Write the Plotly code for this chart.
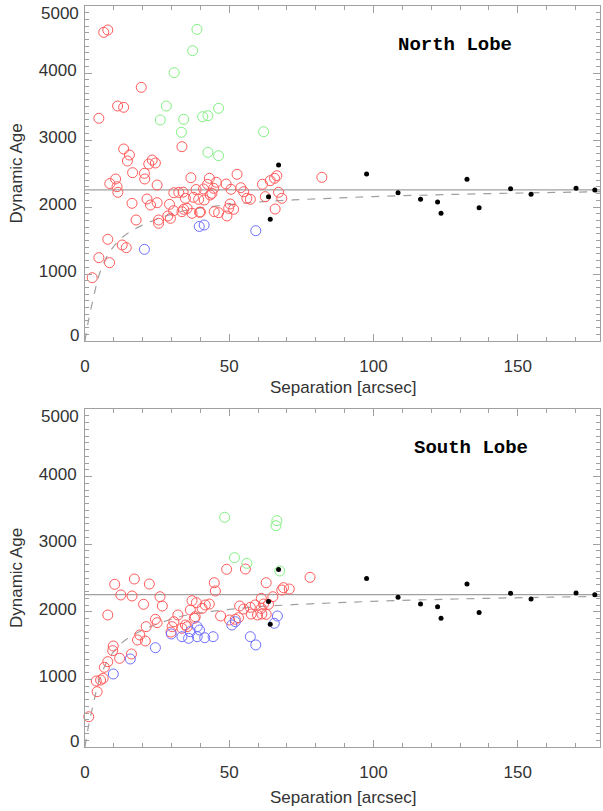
import plotly.graph_objects as go

# ---------------- data ----------------
# North lobe (top panel)
north_red_x = [6.5, 7.9, 19.5, 11.3, 13.4, 4.8, 33.6, 13.4, 15.4, 14.7, 23.3, 22.1, 24.4, 16.5, 20.6,
               20.7, 36.7, 10.6, 8.6, 11.1, 11.4, 25.0, 38.5, 30.8, 32.5, 34.0, 16.3, 21.5, 22.7, 25.0,
               29.3, 34.8, 37.6, 35.4, 30.7, 28.7, 29.6, 25.5, 25.5, 33.6, 37.1, 39.7, 17.7, 7.9, 12.9,
               14.3, 4.8, 8.5, 2.5, 52.7, 43.1, 66.5, 65.7, 64.2, 61.5, 82.1, 45.5, 42.5, 48.9, 41.1,
               44.6, 50.6, 54.0, 44.0, 55.0, 67.1, 39.4, 41.3, 43.4, 56.1, 57.3, 62.5, 68.2, 50.3, 49.8,
               51.5, 46.3, 44.8, 40.0, 49.2, 65.9, 34.2]
north_red_y = [4607, 4642, 3786, 3507, 3488, 3324, 2900, 2866, 2776, 2687, 2701, 2642, 2657, 2512, 2503,
               2418, 2437, 2418, 2350, 2303, 2219, 2328, 2260, 2213, 2218, 2222, 2055, 2119, 2030, 2064,
               2040, 2130, 2145, 1980, 1945, 1866, 1831, 1806, 1757, 1930, 1906, 1921, 1806, 1518, 1433,
               1393, 1244, 1169, 945, 2488, 2428, 2467, 2428, 2393, 2339, 2443, 2369, 2339, 2343, 2269,
               2279, 2264, 2288, 2204, 2228, 2219, 2115, 2104, 2179, 2130, 2115, 2154, 2130, 2045, 1980,
               1966, 1915, 1930, 1925, 1866, 1970, 1966]
north_green_x = [38.8, 37.3, 30.9, 28.2, 26.1, 34.2, 33.4, 42.6, 46.3, 61.9, 40.8, 42.6, 46.3]
north_green_y = [4652, 4333, 4005, 3507, 3299, 3309, 3115, 2816, 2766, 3124, 3348, 3363, 3473]
north_blue_x = [20.6, 39.6, 41.3, 59.2]
north_blue_y = [1368, 1710, 1731, 1646]

# South lobe (bottom panel)
south_red_x = [1.3, 4.2, 3.9, 5.4, 6.3, 6.7, 7.9, 9.6, 9.8, 12.0, 16.1, 18.2, 20.9, 19.0, 7.9,
               10.3, 17.1, 22.3, 12.4, 16.3, 26.0, 20.3, 26.8, 24.4, 25.0, 21.2, 30.8, 32.2, 30.2, 29.8,
               37.1, 38.6, 36.5, 34.8, 33.6, 37.9, 49.1, 55.6, 62.8, 78.0, 44.8, 45.2, 68.2, 68.8, 70.8,
               61.1, 65.1, 61.9, 63.6, 61.1, 41.7, 43.1, 40.6, 53.6, 55.0, 57.3, 59.0, 57.6, 59.8, 61.3,
               62.8, 47.0, 53.2, 52.1, 50.1, 38.2, 35.4]
south_red_y = [448, 818, 976, 991, 1016, 1179, 1262, 1425, 1494, 1312, 1376, 1583, 1568, 1657, 1953,
               2407, 2485, 2411, 2249, 2234, 2223, 2111, 2086, 1889, 1839, 1780, 1854, 1953, 1780, 1700,
               2164, 2135, 2027, 1805, 1756, 1904, 2629, 2633, 2430, 2510, 2430, 2308, 2322, 2357, 2337,
               2199, 2223, 2115, 2111, 2051, 2101, 2115, 2051, 2086, 2041, 2066, 2101, 1967, 1953, 1967,
               1963, 1938, 1913, 1889, 1879, 1928, 1780]
south_green_x = [48.4, 66.5, 66.2, 51.8, 56.1, 67.5]
south_green_y = [3398, 3348, 3274, 2800, 2717, 2604]
south_blue_x = [9.8, 15.7, 24.4, 29.9, 33.6, 35.9, 38.9, 39.7, 66.7, 65.6, 50.9, 52.1, 36.5, 41.5,
                44.4, 57.3, 59.2, 38.9]
south_blue_y = [1080, 1302, 1469, 1672, 1632, 1608, 1780, 1731, 1938, 1830, 1805, 1854, 1706, 1617,
                1632, 1632, 1510, 1632]

# black dots (same in both panels)
black_x = [63.6, 64.2, 67.1, 97.6, 108.5, 116.3, 122.2, 123.4, 132.4, 136.6, 147.5, 154.6, 170.2, 176.7]
black_y = [2154, 1816, 2627, 2493, 2214, 2115, 2075, 1906, 2413, 1990, 2274, 2190, 2279, 2254]

# mean level (solid line) and model curve (dashed)
mean_x = [0, 178.5]
mean_y = [2255, 2255]
curve_x = [0, 1, 3, 5, 8, 12, 16, 20, 25, 33, 40, 50, 60, 72, 85, 100, 120, 140, 160, 178.5]
curve_y = [0, 260, 660, 1000, 1290, 1510, 1640, 1730, 1820, 1930, 1985, 2035, 2075, 2105, 2130,
           2155, 2180, 2200, 2215, 2228]

x_ticks = [0, 50, 100, 150]
y_ticks = [0, 1000, 2000, 3000, 4000, 5000]
y_ticktext = ["", "1000", "2000", "3000", "4000", ""]   # 0 and 5000 are nudged inward (annotations)
panel_titles = ["North Lobe", "South Lobe"]

# ---------------- figure ----------------
W, H = 603, 811
fig = go.Figure()

RED = "rgb(255,90,90)"
GREEN = "rgb(130,240,130)"
BLUE = "rgb(110,110,255)"
GRAY = "rgb(160,160,160)"

panels = [
    dict(xa="x", ya="y", red=(north_red_x, north_red_y), green=(north_green_x, north_green_y),
         blue=(north_blue_x, north_blue_y)),
    dict(xa="x2", ya="y2", red=(south_red_x, south_red_y), green=(south_green_x, south_green_y),
         blue=(south_blue_x, south_blue_y)),
]

for p in panels:
    fig.add_trace(go.Scatter(x=mean_x, y=mean_y, mode="lines", xaxis=p["xa"], yaxis=p["ya"],
                             line=dict(color=GRAY, width=1.3), showlegend=False, hoverinfo="skip"))
    fig.add_trace(go.Scatter(x=curve_x, y=curve_y, mode="lines", xaxis=p["xa"], yaxis=p["ya"],
                             line=dict(color=GRAY, width=1.2, dash="8px,8px", shape="spline"),
                             showlegend=False, hoverinfo="skip"))
    for key, col in (("red", RED), ("green", GREEN), ("blue", BLUE)):
        xs, ys = p[key]
        fig.add_trace(go.Scatter(x=xs, y=ys, mode="markers", xaxis=p["xa"], yaxis=p["ya"],
                                 marker=dict(symbol="circle-open", size=10, color=col,
                                             line=dict(width=1, color=col)),
                                 showlegend=False, cliponaxis=False))
    fig.add_trace(go.Scatter(x=black_x, y=black_y, mode="markers", xaxis=p["xa"], yaxis=p["ya"],
                             marker=dict(symbol="circle", size=5, color="black"), showlegend=False,
                             cliponaxis=False))

x0, x1 = 85 / W, 600 / W
top_dom = [(H - 341) / H, (H - 6) / H]
bot_dom = [(H - 747) / H, (H - 409) / H]

tickfont = dict(family="Liberation Sans, Arial, sans-serif", size=17, color="#333")
common_x = dict(range=[0, 178.5], showline=True, linecolor=GRAY, linewidth=1, mirror="ticks",
                ticks="inside", ticklen=7, tickcolor=GRAY, tickvals=x_ticks,
                minor=dict(ticks="inside", dtick=10, ticklen=4, tickcolor=GRAY),
                showgrid=False, zeroline=False, tickfont=tickfont, ticklabelstandoff=10)
common_y = dict(range=[0, 5000], showline=True, linecolor=GRAY, linewidth=1, mirror="ticks",
                ticks="inside", ticklen=7, tickcolor=GRAY, tickvals=y_ticks, ticktext=y_ticktext,
                minor=dict(ticks="inside", dtick=100, ticklen=4, tickcolor=GRAY),
                showgrid=False, zeroline=False, tickfont=tickfont, ticklabelstandoff=4,
                ticklabelshift=-3)

fig.update_layout(
    width=W, height=H, margin=dict(l=0, r=0, t=0, b=0, autoexpand=False),
    paper_bgcolor="white", plot_bgcolor="white",
    xaxis=dict(domain=[x0, x1], anchor="y", **common_x),
    yaxis=dict(domain=top_dom, anchor="x", **common_y),
    xaxis2=dict(domain=[x0, x1], anchor="y2", **common_x),
    yaxis2=dict(domain=bot_dom, anchor="x2", **common_y),
)

annots = []
label_font = dict(family="Liberation Sans, Arial, sans-serif", size=17, color="#333")
for k, dom in enumerate((top_dom, bot_dom)):
    yref = "y" if k == 0 else "y2"
    annots.append(dict(text="Dynamic Age", textangle=-90, x=16 / W, y=(dom[0] + dom[1]) / 2,
                       xref="paper", yref="paper", showarrow=False, font=label_font,
                       xanchor="center", yanchor="middle"))
    annots.append(dict(text="Separation [arcsec]", x=(85 + 600) / 2 / W,
                       y=dom[0] - (46 if k == 0 else 50) / H,
                       xref="paper", yref="paper", showarrow=False, font=label_font,
                       xanchor="center", yanchor="middle"))
    # edge tick labels, nudged inside the frame as in the original
    annots.append(dict(text=str(y_ticks[0]), x=x0, y=y_ticks[0], xref="paper", yref=yref,
                       xanchor="right", yanchor="middle", xshift=-4, yshift=6, showarrow=False,
                       font=tickfont))
    annots.append(dict(text=str(y_ticks[-1]), x=x0, y=y_ticks[-1], xref="paper", yref=yref,
                       xanchor="right", yanchor="middle", xshift=-4, yshift=-8, showarrow=False,
                       font=tickfont))
for i, dom in enumerate((top_dom, bot_dom)):
    annots.append(dict(text="<b>%s</b>" % panel_titles[i], x=(455 if i == 0 else 471) / W,
                       y=dom[1] - 39 / H, xref="paper", yref="paper", showarrow=False,
                       font=dict(family="Liberation Mono, Courier New, monospace", size=19, color="black"),
                       xanchor="center", yanchor="middle"))
fig.update_layout(annotations=annots)

fig.write_html("out.html", config={"displayModeBar": False},
               post_script="document.body.style.margin='0px';document.body.style.overflow='hidden';")
